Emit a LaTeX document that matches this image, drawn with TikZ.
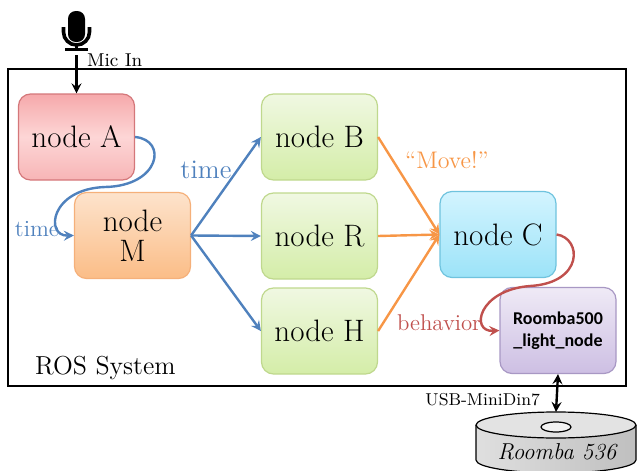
\documentclass[tikz,border=0pt]{standalone}
\usepackage{fontspec}
\newfontfamily\calibri{Carlito}
\usetikzlibrary{arrows.meta}

\definecolor{ofblue}{HTML}{4F81BD}
\definecolor{oforange}{HTML}{F79646}
\definecolor{ofred}{HTML}{C0504D}

\tikzset{
  rosnode/.style={rounded corners=6pt, minimum width=58pt, minimum height=43pt,
    line width=0.6pt, align=center, inner sep=2pt, font=\fontsize{15.5}{17}\selectfont},
  redbox/.style={rosnode, draw={rgb,255:red,212;green,119;blue,122},
    top color={rgb,255:red,246;green,169;blue,171},
    bottom color={rgb,255:red,247;green,181;blue,182},
    middle color={rgb,255:red,253;green,214;blue,214}},
  orangebox/.style={rosnode, draw={rgb,255:red,245;green,176;blue,122},
    top color={rgb,255:red,253;green,227;blue,204},
    bottom color={rgb,255:red,251;green,189;blue,135}},
  greenbox/.style={rosnode, draw={rgb,255:red,191;green,216;blue,141},
    top color={rgb,255:red,240;green,248;blue,226},
    bottom color={rgb,255:red,212;green,237;blue,168}},
  cyanbox/.style={rosnode, draw={rgb,255:red,111;green,195;blue,222},
    top color={rgb,255:red,211;green,244;blue,255},
    bottom color={rgb,255:red,156;green,227;blue,248}},
  purplebox/.style={rosnode, draw={rgb,255:red,168;green,152;blue,196},
    top color={rgb,255:red,239;green,234;blue,246},
    bottom color={rgb,255:red,205;green,191;blue,227},
    font=\calibri\bfseries\fontsize{9}{11}\selectfont},
  bluearrow/.style={ofblue, line width=1.2pt, -stealth},
  orangearrow/.style={oforange, line width=1.2pt, -stealth},
}

\begin{document}
\begin{tikzpicture}[x=0.5pt, y=-0.5pt]
        \useasboundingbox (0,0) rectangle (638,471);
        %%%ROS FRAME%%%
        \draw[line width=1pt] (8,69) rectangle (626,386);
        \node[anchor=west, font=\fontsize{13}{15}\selectfont] (ros) at (28,368) {ROS System};
        %microphone
        \fill[rounded corners=3.9pt] (68,11) rectangle (85,42);
        \draw[line width=1.8pt] (63.5,27) -- (63.5,32) arc[start angle=180, end angle=0, radius=13] -- (89.5,27);
        \draw[line width=1.8pt] (76.5,45) -- (76.5,49);
        \fill (65,47.5) rectangle (88,51);
        \coordinate (mic) at (76.5,55);
        \node[anchor=west, font=\fontsize{9.3}{11}\selectfont] (micin) at (80,60) {Mic In};
        %nodes
        \node[redbox] (A) at (76.5,137) {node A};
        \node[orangebox] (M) at (132.5,235.5) {node\\[-2pt]M};
        \node[greenbox] (B) at (319.5,137) {node B};
        \node[greenbox] (R) at (319.5,236) {node R};
        \node[greenbox] (H) at (319.5,331) {node H};
        \node[cyanbox] (C) at (498,234.5) {node C};
        \node[purplebox] (rmb) at (558,330.5) {Roomba500\\\_light\_node};
        %mic to node A
        \draw[line width=1.2pt, -stealth] (mic) -- (A.north);
        %A to M
        \draw[bluearrow] (A.east) .. controls (168,140) and (160,186) .. (105,187)
          .. controls (50,189) and (45,236) .. (M.west);
        \node[ofblue, font=\fontsize{11.6}{13}\selectfont] (tM) at (37,229) {time};
        %M to B, R, H
        \draw[bluearrow] (M.east) -- (B.west);
        \draw[bluearrow] (M.east) -- (R.west);
        \draw[bluearrow] (M.east) -- (H.west);
        \node[ofblue, font=\fontsize{13.4}{15}\selectfont] (tB) at (206,170) {time};
        %B, R, H to C
        \draw[orangearrow] (B.east) -- (C.west);
        \draw[orangearrow] (R.east) -- (C.west);
        \draw[orangearrow] (H.east) -- (C.west);
        \node[oforange, font=\fontsize{12}{14}\selectfont] (move) at (447,160) {``Move!''};
        %C to Roomba node
        \draw[ofred, line width=1.2pt, -stealth] (C.east) .. controls (582,238) and (584,283) .. (530,286)
          .. controls (478,290) and (470,332) .. (rmb.west);
        \node[ofred, font=\fontsize{11.4}{13}\selectfont] (beh) at (439,323) {behavior};
        %Roomba 536
        \shade[left color=gray!25, right color=gray!50] (476,425) -- (476,460)
          arc[start angle=180, end angle=0, x radius=80, y radius=13] -- (636,425) -- cycle;
        \draw[line width=0.6pt] (476,425) -- (476,460) arc[start angle=180, end angle=0, x radius=80, y radius=13]
          -- (636,425);
        \draw[line width=0.6pt, fill=gray!22] (556,425) ellipse[x radius=80, y radius=13];
        \draw[line width=0.6pt, fill=gray!10] (556,427) ellipse[x radius=15, y radius=5];
        \coordinate (roomba) at (556,412);
        \node[font=\itshape\fontsize{11.5}{13}\selectfont] (rlabel) at (557,452) {Roomba 536};
        \draw[line width=1.2pt, stealth-stealth] (rmb.south) -- (roomba);
        \node[anchor=east, font=\fontsize{8.6}{10}\selectfont] (usb) at (547,400) {USB-MiniDin7};
    \end{tikzpicture}
\end{document}
